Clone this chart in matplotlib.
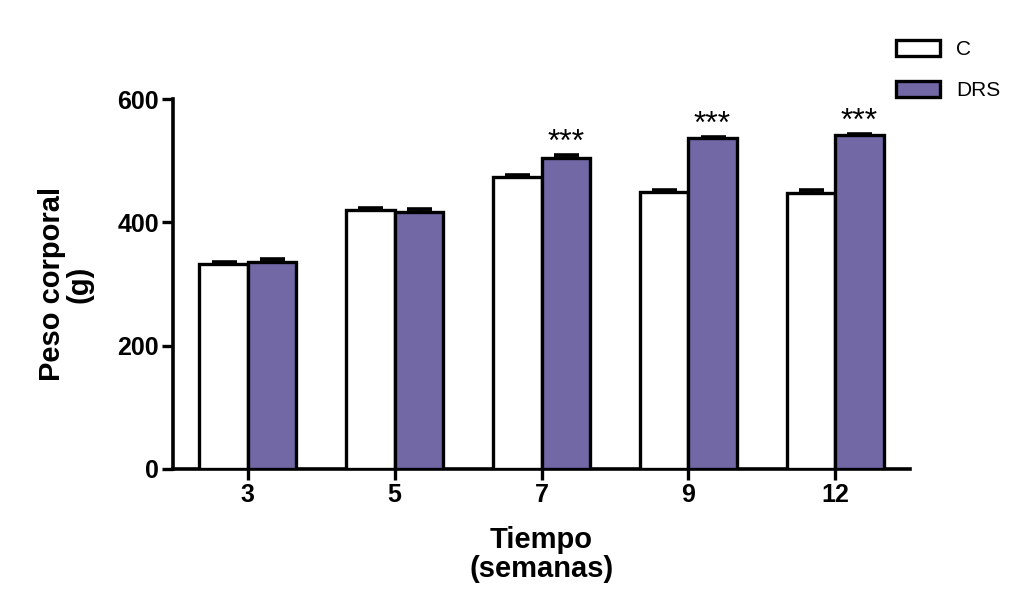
import matplotlib
matplotlib.use("Agg")
import matplotlib.pyplot as plt
import numpy as np

weeks = ["3", "5", "7", "9", "12"]
control = [333, 420, 473, 449, 448]
control_err = [2, 4, 4, 4, 4]
drs = [336, 416, 505, 536, 541]
drs_err = [4, 5, 4, 3, 3]
signif = ["", "", "***", "***", "***"]

purple = "#7268a6"
plt.rcParams["font.family"] = ["Liberation Sans", "DejaVu Sans"]

fig = plt.figure(figsize=(10.26, 6.12), dpi=100)
ax = fig.add_axes([0.1686, 0.2337, 0.7184, 0.6045])

x = np.arange(len(weeks))
w = 0.33
b1 = ax.bar(x - w / 2, control, w, color="white", edgecolor="black", linewidth=2.4, label="C", zorder=3)
b2 = ax.bar(x + w / 2, drs, w, color=purple, edgecolor="black", linewidth=2.4, label="DRS", zorder=3)
ax.errorbar(x - w / 2, control, yerr=[np.zeros(len(x)), control_err], fmt="none",
            ecolor="black", elinewidth=2, capsize=9, capthick=2.6, zorder=2)
ax.errorbar(x + w / 2, drs, yerr=[np.zeros(len(x)), drs_err], fmt="none",
            ecolor="black", elinewidth=2, capsize=9, capthick=2.6, zorder=2)

for xi, v, e, s in zip(x, drs, drs_err, signif):
    if s:
        ax.text(xi + w / 2, v + e - 5, s, ha="center", va="bottom", fontsize=23)

ax.set_xlim(-0.51, 4.51)
ax.set_ylim(0, 600)
ax.set_xticks(x)
ax.set_xticklabels(weeks, fontsize=18, fontweight="bold")
ax.set_yticks([0, 200, 400, 600])
ax.set_yticklabels(["0", "200", "400", "600"], fontsize=18, fontweight="bold")
ax.tick_params(axis="both", direction="out", length=8, width=2.4, color="black", pad=2)

for side in ["top", "right"]:
    ax.spines[side].set_visible(False)
for side in ["left", "bottom"]:
    ax.spines[side].set_linewidth(2.6)

ax.set_ylabel("Peso corporal\n(g)", fontsize=21, fontweight="bold", labelpad=17, linespacing=1.0)
ax.set_xlabel("Tiempo\n(semanas)", fontsize=21, fontweight="bold", labelpad=14, linespacing=1.05)

fig.legend(handles=[b1, b2], labels=["C", "DRS"], loc="upper left",
           bbox_to_anchor=(0.855, 0.965), frameon=False, fontsize=15,
           handlelength=2.1, handleheight=0.8, labelspacing=1.05, handletextpad=0.8)

fig.savefig("out.png", dpi=100, facecolor="white")
